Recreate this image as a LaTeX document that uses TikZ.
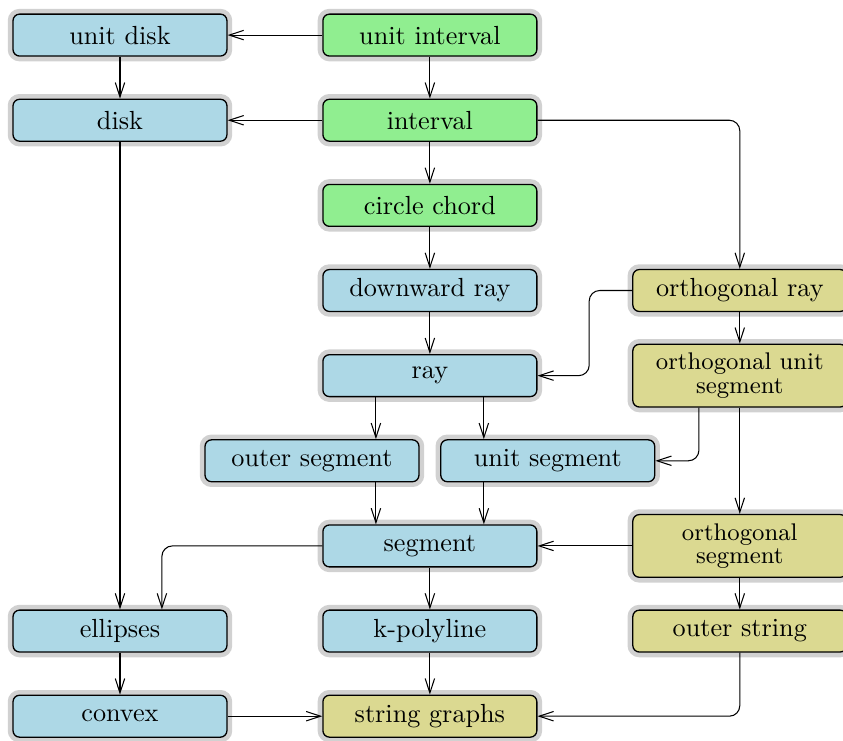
\documentclass[tikz,border=0pt]{standalone}
\usetikzlibrary{positioning,arrows.meta}

\definecolor{boxblue}{RGB}{173,216,230}
\definecolor{boxgreen}{RGB}{144,238,144}
\definecolor{boxolive}{RGB}{219,217,145}

\tikzset{
  box/.style={draw, rounded corners=2.5pt, text width=75pt, align=center,
    minimum height=16pt, line width=0.5pt,
    preaction={draw=black!18, line width=4pt}},
  bluebox/.style={box, fill=boxblue},
  greenbox/.style={box, fill=boxgreen},
  olivebox/.style={box, fill=boxolive},
  twoline/.style={font=\fontsize{9.2pt}{9pt}\selectfont},
  >={Straight Barb[length=5.5pt,width=3.6pt]}
}

\begin{document}
\begin{tikzpicture}[node distance=32.5pt and 118.3pt, on grid]
  \useasboundingbox (0,0) rectangle (321.8pt,-282.8pt);
  \node [greenbox] (unit_interval) at (164.1pt,-13.4pt) {unit interval};
  \node [bluebox] (unit_disk) [left=of unit_interval] {unit disk};
  \node [greenbox] (interval) [below=of unit_interval] {interval};
  \node [bluebox] (disk) [left=of interval] {disk};
  \node [greenbox] (chord) [below=of interval] {circle chord};
  \node [bluebox] (down_ray) [below=of chord] {downward ray};
  \node [olivebox] (orth_ray) [right=of down_ray] {orthogonal ray};
  \node [bluebox] (ray) [below=of down_ray] {ray};
  \node [olivebox, twoline] (orth_unit_seg) [right=of ray] {orthogonal unit\\ segment};
  \node [bluebox] (outer_seg) [below left=32.5pt and 45pt of ray] {outer segment};
  \node [bluebox] (unit_seg) [below right=32.5pt and 45pt of ray] {unit segment};
  \node [bluebox] (segment) [below=65pt of ray] {segment};
  \node [olivebox, twoline] (orth_seg) [right=of segment] {orthogonal\\ segment};
  \node [bluebox] (k_poly) [below=of segment] {k-polyline};
  \node [bluebox] (ellipses) [left=of k_poly] {ellipses};
  \node [olivebox] (outer_string) [right=of k_poly] {outer string};
  \node [bluebox] (convex) [below=of ellipses] {convex};
  \node [olivebox] (string_graphs) [below=of k_poly] {string graphs};
    \path[->]
    (unit_interval) edge (unit_disk)
    (unit_interval) edge (interval)
    (unit_disk) edge (disk)
    (interval) edge (disk)
    (interval) edge (chord)
    (disk) edge (ellipses)
    (chord) edge (down_ray)
    (down_ray) edge (ray)
    (orth_ray) edge (orth_unit_seg)
    (orth_unit_seg) edge (orth_seg)
    (orth_seg) edge (segment)
    (segment) edge (k_poly)
    (orth_seg) edge (outer_string)
    (ellipses) edge (convex)
    (k_poly) edge (string_graphs)
    (convex) edge (string_graphs);
  % bent connectors
  \draw[->, rounded corners=4pt] (interval) -| (orth_ray);
  \draw[->, rounded corners=4pt] (orth_ray.west) -- ++(-16.4pt,0) |- (ray.east);
  \draw[->] ([xshift=-20.6pt]ray.south) -- ([xshift=-20.6pt]ray.south |- outer_seg.north);
  \draw[->] ([xshift=20.6pt]ray.south) -- ([xshift=20.6pt]ray.south |- unit_seg.north);
  \draw[->] ([xshift=-20.6pt]segment.north |- outer_seg.south) -- ([xshift=-20.6pt]segment.north);
  \draw[->] ([xshift=20.6pt]segment.north |- unit_seg.south) -- ([xshift=20.6pt]segment.north);
  \draw[->, rounded corners=4pt] ([xshift=-15.6pt]orth_unit_seg.south) |- (unit_seg.east);
  \draw[->, rounded corners=4pt] (segment.west) -| ([xshift=16pt]ellipses.north);
  \draw[->, rounded corners=4pt] (outer_string) |- (string_graphs);
\end{tikzpicture}
\end{document}
